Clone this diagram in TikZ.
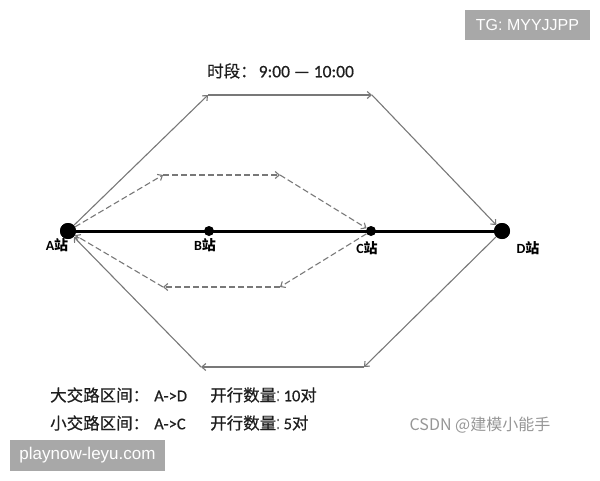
\documentclass[tikz,border=0pt]{standalone}
\usepackage{fontspec}
\setmainfont{Carlito}
\newfontfamily\latin[FakeBold=0.5]{Carlito}
\newfontfamily\cjk[FakeBold=0.6]{Noto Sans CJK SC}
\newfontfamily\cjkb{Noto Sans CJK SC}
\newfontfamily\arialfont{Liberation Sans}
\usetikzlibrary{arrows.meta}
\definecolor{linegray}{RGB}{120,120,120}
\definecolor{boxgray}{RGB}{168,168,168}
\definecolor{wmgray}{RGB}{150,150,150}
\definecolor{textdark}{RGB}{30,30,30}
\tikzset{
  bigdot/.style={circle,fill=black,minimum size=16pt,inner sep=0pt},
  smalldot/.style={circle,fill=black,minimum size=10pt,inner sep=0pt},
  solidarr/.style={draw=linegray,line width=1.1pt,-{Straight Barb[length=4pt,width=7pt]}},
  dasharr/.style={draw=linegray,line width=1.1pt,dash pattern=on 6pt off 3pt,-{Straight Barb[length=4pt,width=7pt]}},
  stlabel/.style={font=\fontsize{14}{16}\selectfont\bfseries,inner sep=0pt},
  infotext/.style={text=textdark,font=\latin\fontsize{16.5}{20}\selectfont,anchor=west,inner sep=0pt},
  wmbox/.style={fill=boxgray,text=white,font=\arialfont\fontsize{16}{18}\selectfont,inner sep=0pt}
}
\newcommand{\cj}[1]{{\cjk\fontsize{16.5}{20}\selectfont #1}}
\newcommand{\cjs}[1]{{\cjkb\bfseries #1}}
\newcommand{\narrowcolon}{\scalebox{0.45}[1]{\cj{：}}}
\begin{document}
\begin{tikzpicture}[x=1pt,y=-1pt]
\useasboundingbox (0,0) rectangle (600,480);
% stations
\node[bigdot] (A) at (68,231) {};
\node[smalldot] (B) at (209,231) {};
\node[smalldot] (C) at (371,231) {};
\node[bigdot] (D) at (502,231) {};
\draw[line width=3pt] (A.center) -- (D.center);
\node[bigdot] at (A.center) {};
\node[bigdot] at (D.center) {};
% corners
\coordinate (t1) at (208,95);
\coordinate (t2) at (372,95);
\coordinate (b2) at (364,367);
\coordinate (b1) at (201,367);
\coordinate (d1) at (163,175);
\coordinate (d2) at (280,175);
\coordinate (e2) at (280,287);
\coordinate (e1) at (163,287);
% outer route A->D->A
\draw[solidarr] (A) -- (t1);
\draw[solidarr] (t1) -- (t2);
\draw[solidarr] (t2) -- (D);
\draw[solidarr] (D) -- (b2);
\draw[solidarr] (b2) -- (b1);
\draw[solidarr] (b1) -- (A);
% inner route A->C->A
\draw[dasharr] (A) -- (d1);
\draw[dasharr] (d1) -- (d2);
\draw[dasharr] (d2) -- (C);
\draw[dasharr] (C) -- (e2);
\draw[dasharr] (e2) -- (e1);
\draw[dasharr] (e1) -- (A);
% station labels
\node[stlabel] (la) at (57,245) {A\cjs{站}};
\node[stlabel] (lb) at (205,245) {B\cjs{站}};
\node[stlabel] (lc) at (367,248) {C\cjs{站}};
\node[stlabel] (ld) at (528,248) {D\cjs{站}};
% title
\node[text=textdark,font=\latin\fontsize{17.5}{20}\selectfont,inner sep=0pt,anchor=west] (title) at (207,71) {\cj{时段：}\kern2pt 9:00 — 10:00};
% info text
\node[infotext] (i1) at (50,395) {\cj{大交路区间：}\kern5pt A->D};
\node[infotext] (i2) at (210,395) {\cj{开行数量}\narrowcolon 10\cj{对}};
\node[infotext] (i3) at (50,423) {\cj{小交路区间：}\kern5pt A->C};
\node[infotext] (i4) at (210,423) {\cj{开行数量}\narrowcolon 5\cj{对}};
% watermarks
\node[wmbox,minimum width=125pt,minimum height=30pt] (tg) at (527.5,25) {TG: MYYJJPP};
\node[wmbox,minimum width=155pt,minimum height=31pt,font=\arialfont\fontsize{17}{19}\selectfont] (pl) at (87.5,455.5) {playnow-leyu.com};
\node[text=wmgray,font=\cjkb\fontsize{16}{18}\selectfont,inner sep=0pt] (csdn) at (480,425) {CSDN @建模小能手};
\end{tikzpicture}
\end{document}
